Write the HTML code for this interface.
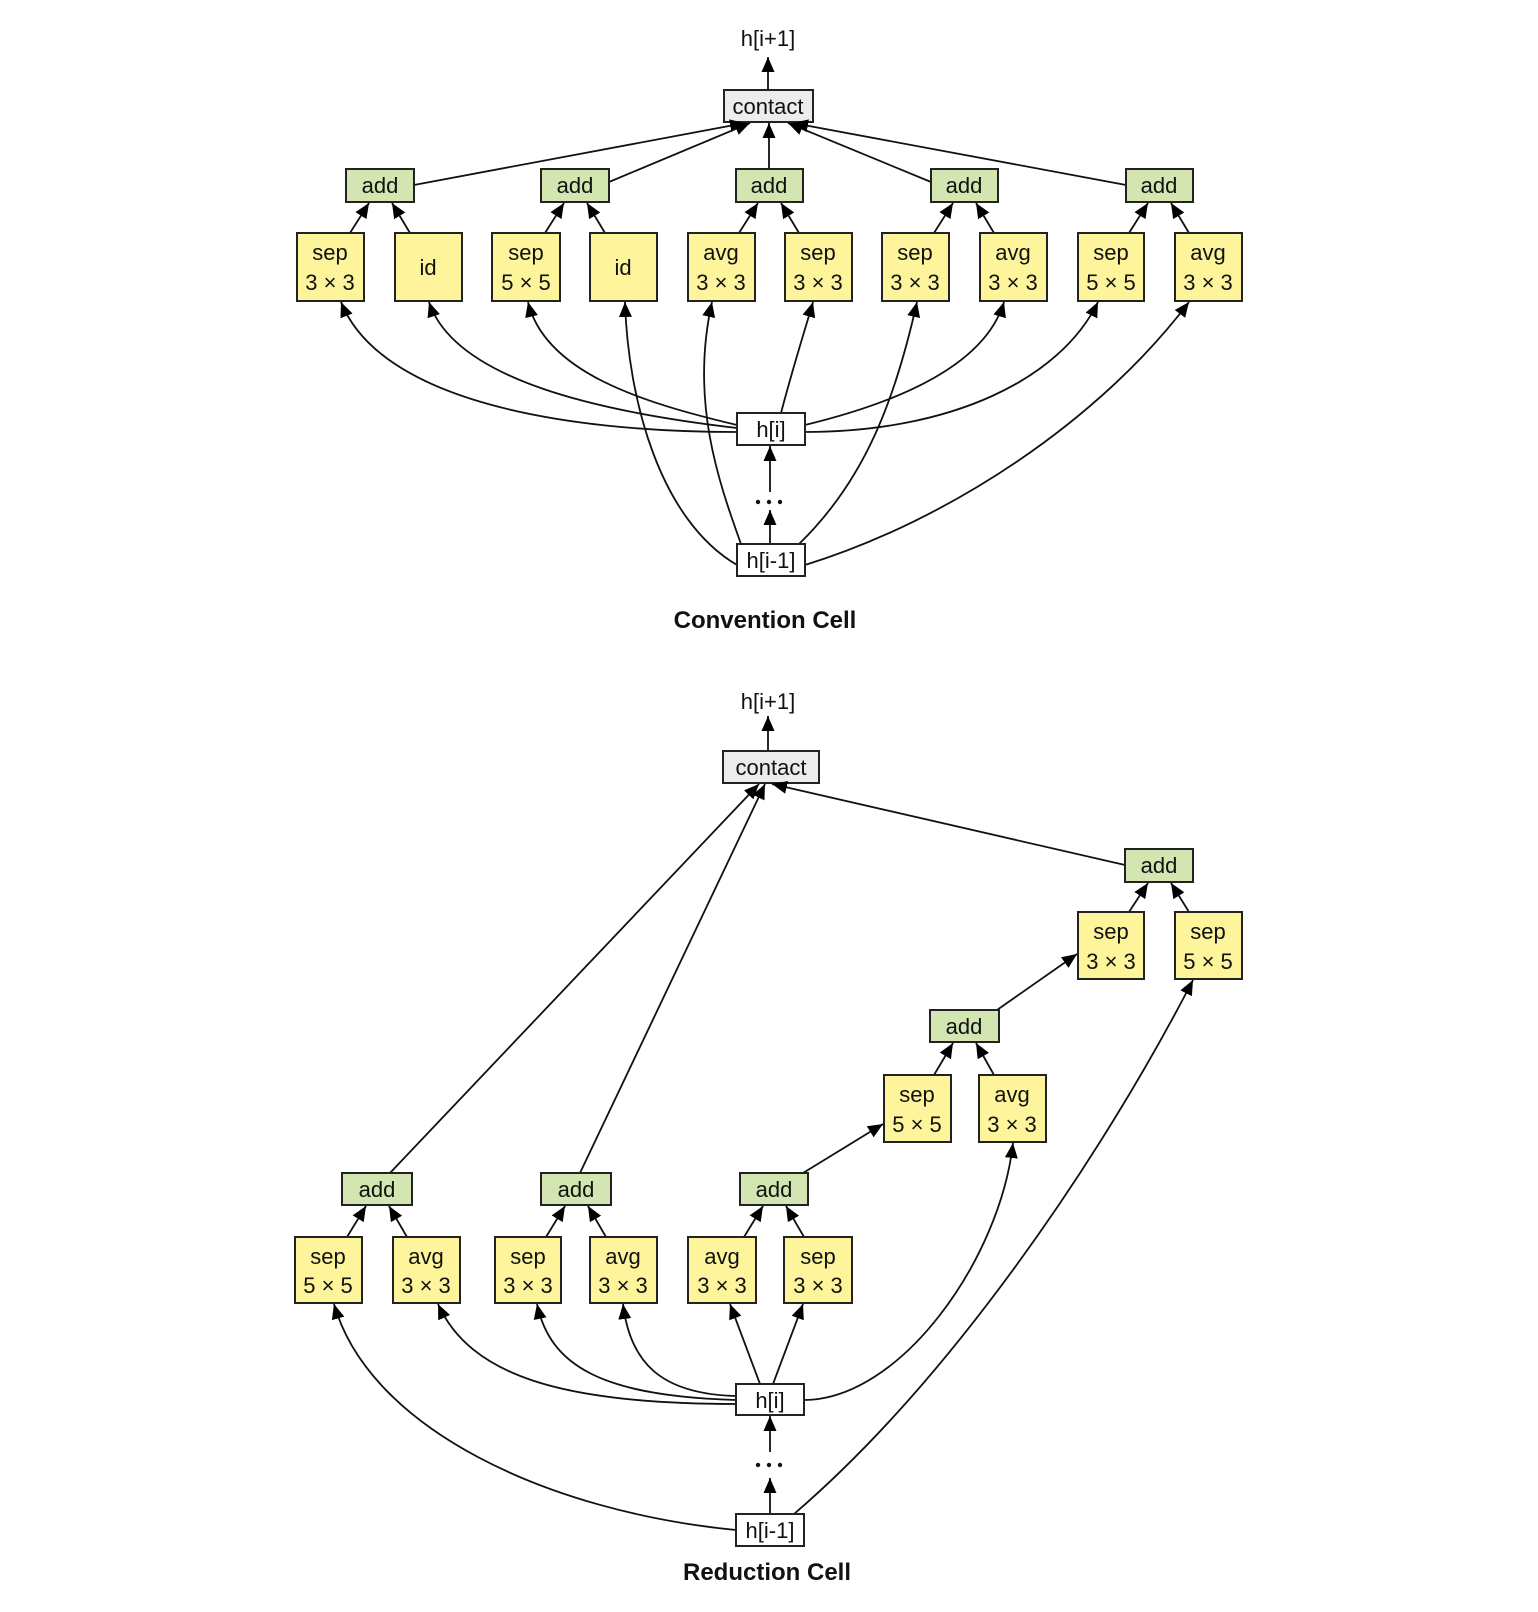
<!DOCTYPE html>
<html><head><meta charset="utf-8"><style>
html,body{margin:0;padding:0;background:#fff;}
svg{display:block;}
text{font-family:"Liberation Sans",sans-serif;fill:#111;}
.l{font-size:22px;text-anchor:middle;}
.b{font-size:24px;font-weight:bold;text-anchor:middle;}
.y{fill:#fdf49b;stroke:#222;stroke-width:2;}
.g{fill:#d3e5b0;stroke:#222;stroke-width:2;}
.w{fill:#fff;stroke:#222;stroke-width:2;}
.c{fill:#ececec;stroke:#222;stroke-width:2;}
.e{fill:none;stroke:#111;stroke-width:1.8;marker-end:url(#a);}
</style></head><body>
<svg width="1538" height="1612" viewBox="0 0 1538 1612" xmlns="http://www.w3.org/2000/svg">
<defs><marker id="a" markerUnits="userSpaceOnUse" markerWidth="16" markerHeight="14" refX="15" refY="6.5" orient="auto"><path d="M0,0 L15,6.5 L0,13 z" fill="#000"/></marker></defs>

<!-- ===== Top cell ===== -->
<text class="l" x="768" y="46">h[i+1]</text>
<path class="e" d="M768,90 L768,57"/>
<rect class="c" x="724" y="90" width="89" height="32"/>
<text class="l" x="768" y="114">contact</text>

<path class="e" d="M414,185 L745,123"/>
<path class="e" d="M609,182 L750,123"/>
<path class="e" d="M769,169 L769,123"/>
<path class="e" d="M931,182 L788,123"/>
<path class="e" d="M1126,185 L793,123"/>

<g>
<rect class="g" x="346" y="169" width="68" height="33"/><text class="l" x="380" y="193">add</text>
<rect class="g" x="541" y="169" width="68" height="33"/><text class="l" x="575" y="193">add</text>
<rect class="g" x="736" y="169" width="67" height="33"/><text class="l" x="769" y="193">add</text>
<rect class="g" x="931" y="169" width="67" height="33"/><text class="l" x="964" y="193">add</text>
<rect class="g" x="1126" y="169" width="67" height="33"/><text class="l" x="1159" y="193">add</text>
</g>
<path class="e" d="M350,233 L369,203"/><path class="e" d="M410,233 L392,203"/>
<path class="e" d="M545,233 L564,203"/><path class="e" d="M605,233 L587,203"/>
<path class="e" d="M739,233 L758,203"/><path class="e" d="M799,233 L781,203"/>
<path class="e" d="M934,233 L953,203"/><path class="e" d="M994,233 L976,203"/>
<path class="e" d="M1129,233 L1148,203"/><path class="e" d="M1189,233 L1171,203"/>

<rect class="y" x="297" y="233" width="67" height="68"/><text class="l" x="330" y="260">sep</text><text class="l" x="330" y="290">3 × 3</text>
<rect class="y" x="395" y="233" width="67" height="68"/><text class="l" x="428" y="275">id</text>
<rect class="y" x="492" y="233" width="68" height="68"/><text class="l" x="526" y="260">sep</text><text class="l" x="526" y="290">5 × 5</text>
<rect class="y" x="590" y="233" width="67" height="68"/><text class="l" x="623" y="275">id</text>
<rect class="y" x="688" y="233" width="67" height="68"/><text class="l" x="721" y="260">avg</text><text class="l" x="721" y="290">3 × 3</text>
<rect class="y" x="785" y="233" width="67" height="68"/><text class="l" x="818" y="260">sep</text><text class="l" x="818" y="290">3 × 3</text>
<rect class="y" x="882" y="233" width="67" height="68"/><text class="l" x="915" y="260">sep</text><text class="l" x="915" y="290">3 × 3</text>
<rect class="y" x="980" y="233" width="67" height="68"/><text class="l" x="1013" y="260">avg</text><text class="l" x="1013" y="290">3 × 3</text>
<rect class="y" x="1078" y="233" width="66" height="68"/><text class="l" x="1111" y="260">sep</text><text class="l" x="1111" y="290">5 × 5</text>
<rect class="y" x="1175" y="233" width="67" height="68"/><text class="l" x="1208" y="260">avg</text><text class="l" x="1208" y="290">3 × 3</text>

<path class="e" d="M737,432 C560,432 380,400 341,302"/>
<path class="e" d="M737,428 C600,412 455,380 429,302"/>
<path class="e" d="M737,425 C640,402 545,372 528,302"/>
<path class="e" d="M737,565 C660,520 628,400 625,302"/>
<path class="e" d="M741,544 C718,480 690,400 712,302"/>
<path class="e" d="M781,413 C795,360 805,330 813,302"/>
<path class="e" d="M799,544 C865,480 895,400 917,302"/>
<path class="e" d="M805,425 C900,402 985,365 1004,302"/>
<path class="e" d="M805,432 C950,432 1060,380 1098,302"/>
<path class="e" d="M805,565 C950,520 1100,420 1189,302"/>

<rect class="w" x="737" y="413" width="68" height="32"/><text class="l" x="771" y="437">h[i]</text>
<path class="e" d="M770,492 L770,446"/>
<circle cx="758" cy="502" r="2.2" fill="#111"/><circle cx="769" cy="502" r="2.2" fill="#111"/><circle cx="780" cy="502" r="2.2" fill="#111"/>
<path class="e" d="M770,544 L770,510"/>
<rect class="w" x="737" y="544" width="68" height="32"/><text class="l" x="771" y="568">h[i-1]</text>
<text class="b" x="765" y="628">Convention Cell</text>

<!-- ===== Bottom cell ===== -->
<text class="l" x="768" y="709">h[i+1]</text>
<path class="e" d="M768,751 L768,716"/>
<rect class="c" x="723" y="751" width="96" height="32"/>
<text class="l" x="771" y="775">contact</text>

<path class="e" d="M390,1173 L759,784"/>
<path class="e" d="M580,1173 L765,784"/>
<path class="e" d="M1125,865 L772,784"/>

<rect class="g" x="1125" y="849" width="68" height="33"/><text class="l" x="1159" y="873">add</text>
<path class="e" d="M1129,912 L1148,883"/><path class="e" d="M1189,912 L1171,883"/>
<rect class="y" x="1078" y="912" width="66" height="67"/><text class="l" x="1111" y="939">sep</text><text class="l" x="1111" y="969">3 × 3</text>
<rect class="y" x="1175" y="912" width="67" height="67"/><text class="l" x="1208" y="939">sep</text><text class="l" x="1208" y="969">5 × 5</text>

<path class="e" d="M997,1010 L1077,954"/>
<rect class="g" x="930" y="1010" width="69" height="32"/><text class="l" x="964" y="1034">add</text>
<path class="e" d="M934,1075 L953,1043"/><path class="e" d="M994,1075 L976,1043"/>
<rect class="y" x="884" y="1075" width="67" height="67"/><text class="l" x="917" y="1102">sep</text><text class="l" x="917" y="1132">5 × 5</text>
<rect class="y" x="979" y="1075" width="67" height="67"/><text class="l" x="1012" y="1102">avg</text><text class="l" x="1012" y="1132">3 × 3</text>

<path class="e" d="M803,1173 L883,1124"/>
<rect class="g" x="342" y="1173" width="70" height="32"/><text class="l" x="377" y="1197">add</text>
<rect class="g" x="541" y="1173" width="70" height="32"/><text class="l" x="576" y="1197">add</text>
<rect class="g" x="740" y="1173" width="68" height="32"/><text class="l" x="774" y="1197">add</text>
<path class="e" d="M347,1237 L366,1206"/><path class="e" d="M407,1237 L389,1206"/>
<path class="e" d="M546,1237 L565,1206"/><path class="e" d="M606,1237 L588,1206"/>
<path class="e" d="M744,1237 L763,1206"/><path class="e" d="M804,1237 L786,1206"/>

<rect class="y" x="295" y="1237" width="67" height="66"/><text class="l" x="328" y="1264">sep</text><text class="l" x="328" y="1293">5 × 5</text>
<rect class="y" x="393" y="1237" width="67" height="66"/><text class="l" x="426" y="1264">avg</text><text class="l" x="426" y="1293">3 × 3</text>
<rect class="y" x="495" y="1237" width="66" height="66"/><text class="l" x="528" y="1264">sep</text><text class="l" x="528" y="1293">3 × 3</text>
<rect class="y" x="590" y="1237" width="67" height="66"/><text class="l" x="623" y="1264">avg</text><text class="l" x="623" y="1293">3 × 3</text>
<rect class="y" x="688" y="1237" width="68" height="66"/><text class="l" x="722" y="1264">avg</text><text class="l" x="722" y="1293">3 × 3</text>
<rect class="y" x="784" y="1237" width="68" height="66"/><text class="l" x="818" y="1264">sep</text><text class="l" x="818" y="1293">3 × 3</text>

<path class="e" d="M736,1530 C550,1512 370,1430 334,1304"/>
<path class="e" d="M736,1404 C560,1404 470,1375 438,1304"/>
<path class="e" d="M736,1400 C600,1396 550,1365 537,1304"/>
<path class="e" d="M736,1396 C660,1394 630,1362 623,1304"/>
<path class="e" d="M760,1384 L730,1304"/>
<path class="e" d="M773,1384 L803,1304"/>
<path class="e" d="M804,1400 C900,1400 1000,1260 1013,1143"/>
<path class="e" d="M794,1514 C950,1380 1100,1160 1193,980"/>

<rect class="w" x="736" y="1384" width="68" height="31"/><text class="l" x="770" y="1408">h[i]</text>
<path class="e" d="M770,1452 L770,1416"/>
<circle cx="758" cy="1465" r="2.2" fill="#111"/><circle cx="769" cy="1465" r="2.2" fill="#111"/><circle cx="780" cy="1465" r="2.2" fill="#111"/>
<path class="e" d="M770,1514 L770,1478"/>
<rect class="w" x="736" y="1514" width="68" height="32"/><text class="l" x="770" y="1538">h[i-1]</text>
<text class="b" x="767" y="1580">Reduction Cell</text>
</svg>
</body></html>
